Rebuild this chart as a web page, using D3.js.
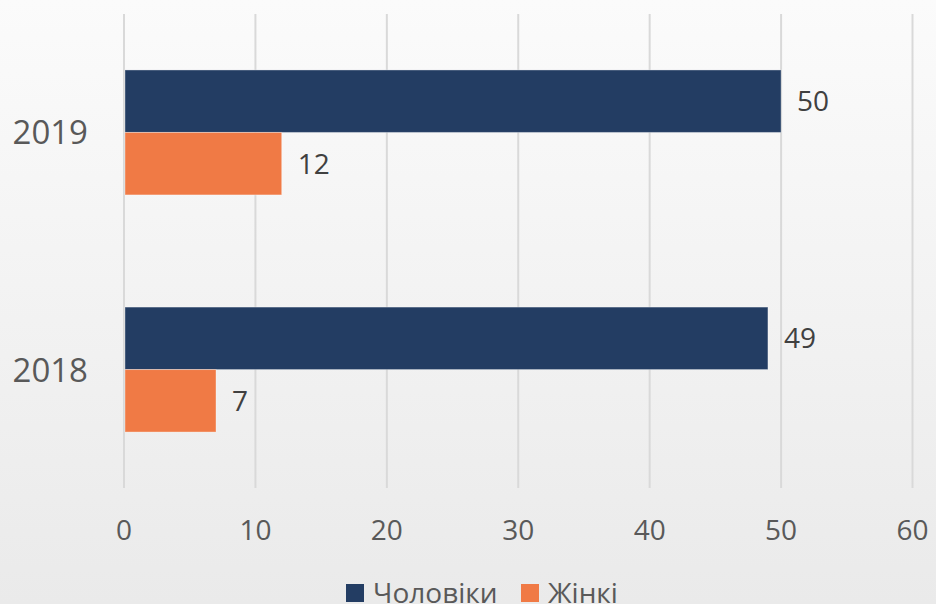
<!DOCTYPE html>
<html>
<head>
<meta charset="utf-8">
<script src="https://cdn.jsdelivr.net/npm/d3@7"></script>
<style>
  html, body { margin: 0; padding: 0; }
  body { width: 936px; height: 604px; overflow: hidden; }
  text { font-family: "Open Sans", "Noto Sans", sans-serif; }
</style>
</head>
<body>
<script>
// data
var years = ["2019", "2018"];
var seriesNames = ["Чоловіки", "Жінкі"];
var men = [50, 49];
var women = [12, 7];
var xTicks = [0, 10, 20, 30, 40, 50, 60];
var colors = ["#233d63", "#f07a45"];

var width = 936, height = 604;
var svg = d3.select("body").append("svg")
    .attr("width", width)
    .attr("height", height);

var grad = svg.append("defs").append("linearGradient")
    .attr("id", "bg")
    .attr("x1", 0).attr("y1", 0).attr("x2", 0).attr("y2", 1);
grad.append("stop").attr("offset", "0%").attr("stop-color", "#fbfbfb");
grad.append("stop").attr("offset", "100%").attr("stop-color", "#eaeaea");

svg.append("rect")
    .attr("width", width)
    .attr("height", height)
    .attr("fill", "url(#bg)");

var x = d3.scaleLinear().domain([0, 60]).range([124, 912.5]);
var y = d3.scaleBand().domain(years).range([14, 488])
    .paddingInner(0.473).paddingOuter(0.236);
var ySub = d3.scaleBand().domain(seriesNames).range([0, y.bandwidth()]);

// gridlines
svg.append("g").selectAll("line")
    .data(xTicks)
    .join("line")
    .attr("x1", d => x(d)).attr("x2", d => x(d))
    .attr("y1", 14).attr("y2", 488)
    .attr("stroke", "#d9d9d9")
    .attr("stroke-width", 2);

// x tick labels
svg.append("g").selectAll("text")
    .data(xTicks)
    .join("text")
    .attr("x", d => x(d))
    .attr("y", 540)
    .attr("text-anchor", "middle")
    .attr("font-size", 28)
    .attr("fill", "#595959")
    .text(d => d);

// category labels
svg.append("g").selectAll("text")
    .data(years)
    .join("text")
    .attr("x", 88)
    .attr("y", d => y(d) + y.bandwidth() / 2 + 12)
    .attr("text-anchor", "end")
    .attr("font-size", 33)
    .attr("fill", "#595959")
    .text(d => d);

var rows = [];
years.forEach(function (yr, i) {
    rows.push({ year: yr, s: seriesNames[0], v: men[i], c: colors[0] });
    rows.push({ year: yr, s: seriesNames[1], v: women[i], c: colors[1] });
});

var bars = svg.append("g");
bars.selectAll("rect")
    .data(rows)
    .join("rect")
    .attr("x", x(0) + 1)
    .attr("y", d => y(d.year) + ySub(d.s))
    .attr("width", d => x(d.v) - x(0) - 1)
    .attr("height", ySub.bandwidth())
    .attr("fill", d => d.c)
    .attr("stroke", "rgba(255,255,255,0.35)")
    .attr("stroke-width", 1);

bars.selectAll("text")
    .data(rows)
    .join("text")
    .attr("x", d => x(d.v) + 16)
    .attr("y", d => y(d.year) + ySub(d.s) + ySub.bandwidth() / 2 + 10)
    .attr("font-size", 28)
    .attr("fill", "#404040")
    .text(d => d.v);

// legend
var legendX = [346, 521];
var lg = svg.append("g").selectAll("g")
    .data(seriesNames)
    .join("g")
    .attr("transform", (d, i) => "translate(" + legendX[i] + ",584)");
lg.append("rect")
    .attr("width", 18).attr("height", 18)
    .attr("fill", (d, i) => colors[i]);
lg.append("text")
    .attr("x", 27)
    .attr("y", 19)
    .attr("font-size", 28)
    .attr("fill", "#595959")
    .text(d => d);
</script>
</body>
</html>
